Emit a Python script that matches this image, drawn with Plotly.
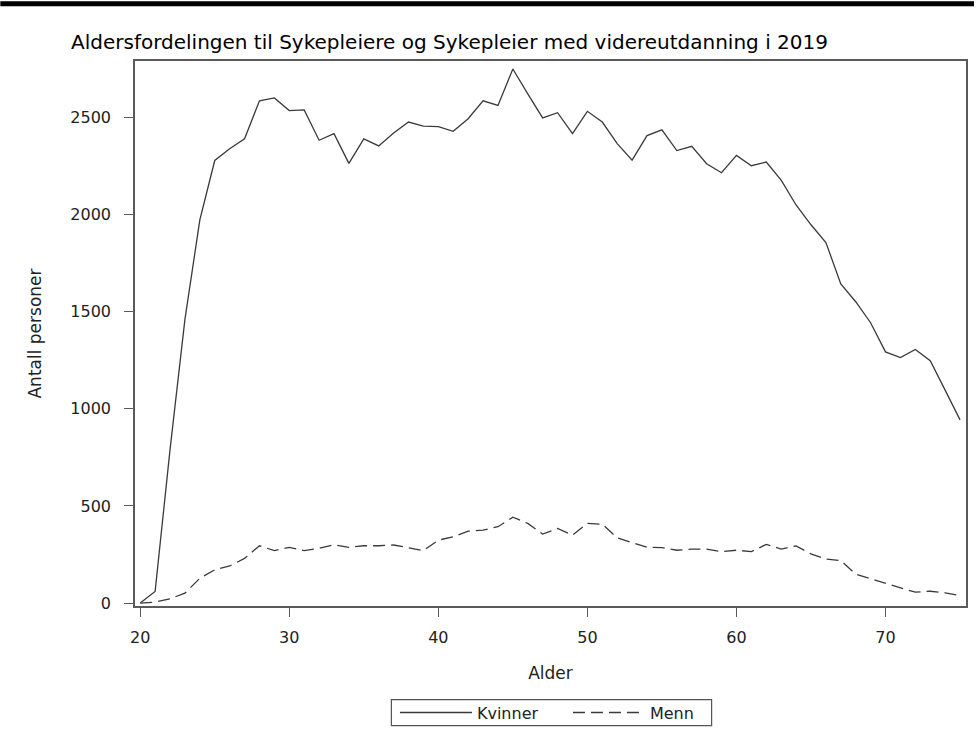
import plotly.graph_objects as go

alder = list(range(20, 76))
kvinner = [0, 60, 790, 1460, 1972, 2278, 2338, 2390, 2585, 2600,
           2535, 2538, 2382, 2416, 2263, 2389, 2353, 2420, 2476, 2455,
           2452, 2428, 2493, 2585, 2561, 2749, 2621, 2497, 2524, 2416,
           2531, 2476, 2365, 2280, 2406, 2436, 2329, 2351, 2261, 2215,
           2304, 2251, 2270, 2177, 2049, 1947, 1856, 1643, 1551, 1443,
           1293, 1264, 1305, 1247, 1096, 943]
menn = [0, 5, 22, 51, 128, 171, 191, 230, 295, 270,
        287, 270, 282, 300, 287, 295, 295, 299, 285, 270,
        324, 341, 370, 376, 393, 442, 410, 355, 384, 350,
        410, 406, 336, 312, 287, 285, 272, 278, 278, 265,
        272, 265, 302, 278, 294, 253, 227, 219, 149, 125,
        102, 80, 56, 61, 53, 39]

title = "Aldersfordelingen til Sykepleiere og Sykepleier med videreutdanning i 2019"
x_ticks = [20, 30, 40, 50, 60, 70]
y_ticks = [0, 500, 1000, 1500, 2000, 2500]

FONT = "DejaVu Sans, sans-serif"
LINE = "#3a3a3a"
AX = "#5a5a5a"
TXT = "#222222"

fig = go.Figure()
fig.add_trace(go.Scatter(x=alder, y=kvinner, mode="lines", name="Kvinner",
                         line=dict(color=LINE, width=1.3)))
fig.add_trace(go.Scatter(x=alder, y=menn, mode="lines", name="Menn",
                         line=dict(color=LINE, width=1.3, dash="12px,6px")))

L, R, T, B = 135, 8, 61, 130
W, H = 976, 738
pw, ph = W - L - R, H - T - B

def px_x(x):
    return (x - L) / pw

def px_y(y):
    return (H - B - y) / ph

fig.update_layout(
    width=W, height=H,
    margin=dict(l=L, r=R, t=T, b=B, pad=0),
    paper_bgcolor="white", plot_bgcolor="white",
    font=dict(family=FONT, color=TXT, size=16),
    title=dict(text=title, x=71 / W, xanchor="left", y=1 - 42 / H, yanchor="middle",
               font=dict(family=FONT, size=20, color="black")),
    xaxis=dict(range=[19.65, 75.4], tickvals=x_ticks, ticks="outside", ticklen=9,
               tickwidth=1.3, tickcolor=AX, showline=True, linecolor=AX, linewidth=1.5,
               mirror=True, showgrid=False, zeroline=False, ticklabelstandoff=7,
               tickfont=dict(size=16, color=TXT),
               title=dict(text="Alder", font=dict(size=17, color=TXT), standoff=21)),
    yaxis=dict(range=[-15, 2790], tickvals=y_ticks, ticks="outside", ticklen=9,
               tickwidth=1.3, tickcolor=AX, showline=True, linecolor=AX, linewidth=1.5,
               mirror=True, showgrid=False, zeroline=False, ticklabelstandoff=10,
               tickfont=dict(size=16, color=TXT),
               title=dict(text="Antall personer", font=dict(size=17, color=TXT), standoff=24)),
    legend=dict(orientation="h", x=px_x(569), xanchor="center",
                y=px_y(715), yanchor="middle",
                borderwidth=0, bgcolor="rgba(0,0,0,0)",
                font=dict(size=16, color=TXT), itemwidth=72,
                entrywidth=86, entrywidthmode="pixels"),
    showlegend=True,
)

# top rule
fig.add_shape(type="rect", xref="paper", yref="paper",
              x0=px_x(0), x1=px_x(W), y0=px_y(6), y1=px_y(1),
              fillcolor="black", line=dict(width=0), layer="above")
# legend frame
fig.add_shape(type="rect", xref="paper", yref="paper",
              x0=px_x(392), x1=px_x(713), y0=px_y(728), y1=px_y(702),
              fillcolor="rgba(0,0,0,0)", line=dict(color="#555555", width=1.2))

fig.write_html("out.html", config={"displayModeBar": False},
               post_script="document.body.style.margin='0px';document.body.style.overflow='hidden';")
